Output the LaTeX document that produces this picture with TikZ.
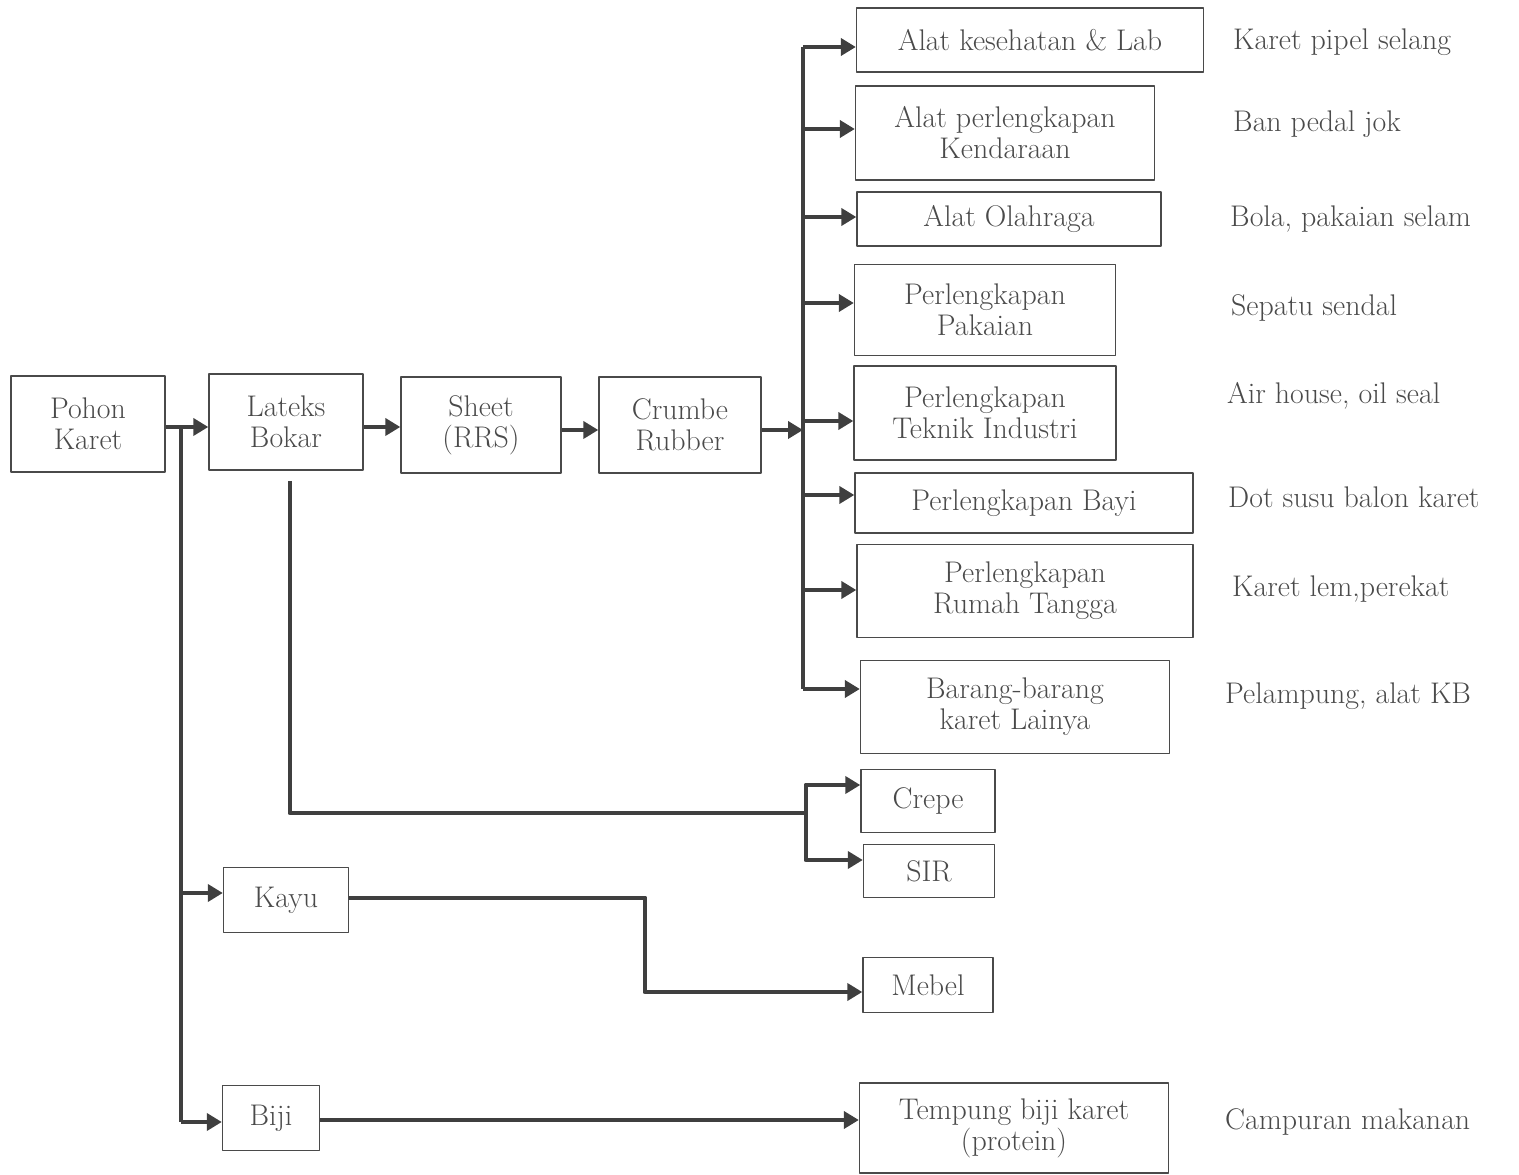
\documentclass[tikz,border=0pt]{standalone}
\usetikzlibrary{arrows.meta}
\definecolor{inkgray}{HTML}{4A4A4A}
\definecolor{linegray}{HTML}{3F3F3F}
\begin{document}
\begin{tikzpicture}[x=0.02cm, y=-0.02cm, line join=round, font=\fontsize{17}{17.6}\selectfont, >={Triangle[length=3mm,width=3.4mm]}]
	\tikzset{box/.style 2 args={draw=inkgray, line width=0.8pt, text=inkgray, align=center, inner sep=0pt, minimum width=#1*0.2mm, minimum height=#2*0.2mm}}
	\tikzset{use/.style={text=inkgray, anchor=west}}
	\tikzset{arr/.style={->, draw=linegray, line width=2.8pt}}
	\useasboundingbox (0,0) rectangle (1519,1175);
	% main chain
	\node[box={154}{96}] (pohon) at (88,424) {Pohon\\Karet};
	\node[box={154}{96}] (lateks) at (286,422) {Lateks\\Bokar};
	\node[box={160}{96}] (sheet) at (481,425) {Sheet\\(RRS)};
	\node[box={162}{96}] (crumbe) at (680,425) {Crumbe\\Rubber};
	% products
	\node[box={347}{64}] (lab) at (1030,40) {Alat kesehatan \& Lab};
	\node[box={299}{94}] (kendaraan) at (1005,133) {Alat perlengkapan\\Kendaraan};
	\node[box={304}{54}] (olahraga) at (1009,219) {Alat Olahraga};
	\node[box={261}{91}] (pakaian) at (985,310) {Perlengkapan\\Pakaian};
	\node[box={262}{94}] (teknik) at (985,413) {Perlengkapan\\Teknik Industri};
	\node[box={338}{60}] (bayi) at (1024,503) {Perlengkapan Bayi};
	\node[box={336}{93}] (rumah) at (1025,591) {Perlengkapan\\Rumah Tangga};
	\node[box={309}{93}] (lainya) at (1015,707) {Barang-barang\\karet Lainya};
	\node[box={134}{63}] (crepe) at (928,801) {Crepe};
	\node[box={131}{53}] (sir) at (929,871) {SIR};
	\node[box={125}{65}] (kayu) at (286,900) {Kayu};
	\node[box={130}{55}] (mebel) at (928,985) {Mebel};
	\node[box={97}{65}] (biji) at (271,1118) {Biji};
	\node[box={309}{90}] (tempung) at (1014,1128) {Tempung biji karet\\(protein)};
	% uses
	\node[use] (u1) at (1227,42) {Karet pipel selang};
	\node[use] (u2) at (1227,124) {Ban pedal jok};
	\node[use] (u3) at (1224,219) {Bola, pakaian selam};
	\node[use] (u4) at (1225,308) {Sepatu sendal};
	\node[use] (u5) at (1221,396) {Air house, oil seal};
	\node[use] (u6) at (1222,497) {Dot susu balon karet};
	\node[use] (u7) at (1226,589) {Karet lem,perekat};
	\node[use] (u8) at (1219,696) {Pelampung, alat KB};
	\node[use] (u9) at (1219,1122) {Campuran makanan};
	% junctions
	\coordinate (trunk) at (181,427);
	\coordinate (trunkend) at (181,1122);
	\coordinate (bustop) at (803,47);
	\coordinate (busend) at (803,689);
	\coordinate (busin) at (803,430);
	\coordinate (lat0) at (290,481);
	\coordinate (split) at (806,813);
	\coordinate (bend) at (645,950);
	% connectors
	\draw[arr] (pohon.east |- trunk) -- (lateks.west |- trunk);
	\draw[arr, -] (trunk) -- (trunkend);
	\draw[arr] (181,893) -- (kayu.west |- 0,893);
	\draw[arr] (trunkend) -- (biji.west |- trunkend);
	\draw[arr] (lateks.east |- trunk) -- (sheet.west |- trunk);
	\draw[arr] (sheet.east |- busin) -- (crumbe.west |- busin);
	\draw[arr] (crumbe.east |- busin) -- (busin);
	\draw[arr, -] (bustop) -- (busend);
	\foreach \n/\y in {lab/47,kendaraan/129,olahraga/217,pakaian/303,teknik/421,bayi/495,rumah/590,lainya/689}
		\draw[arr] (803,\y) -- (\n.west |- 0,\y);
	\draw[arr, -] (lat0) |- (split);
	\draw[arr] (split) |- (crepe.west |- 0,785);
	\draw[arr] (split) |- (sir.west |- 0,860);
	\draw[arr] (kayu.east |- 0,898) -| (bend) |- (mebel.west |- 0,992);
	\draw[arr] (biji.east |- 0,1120) -- (tempung.west |- 0,1120);
\end{tikzpicture}
\end{document}
